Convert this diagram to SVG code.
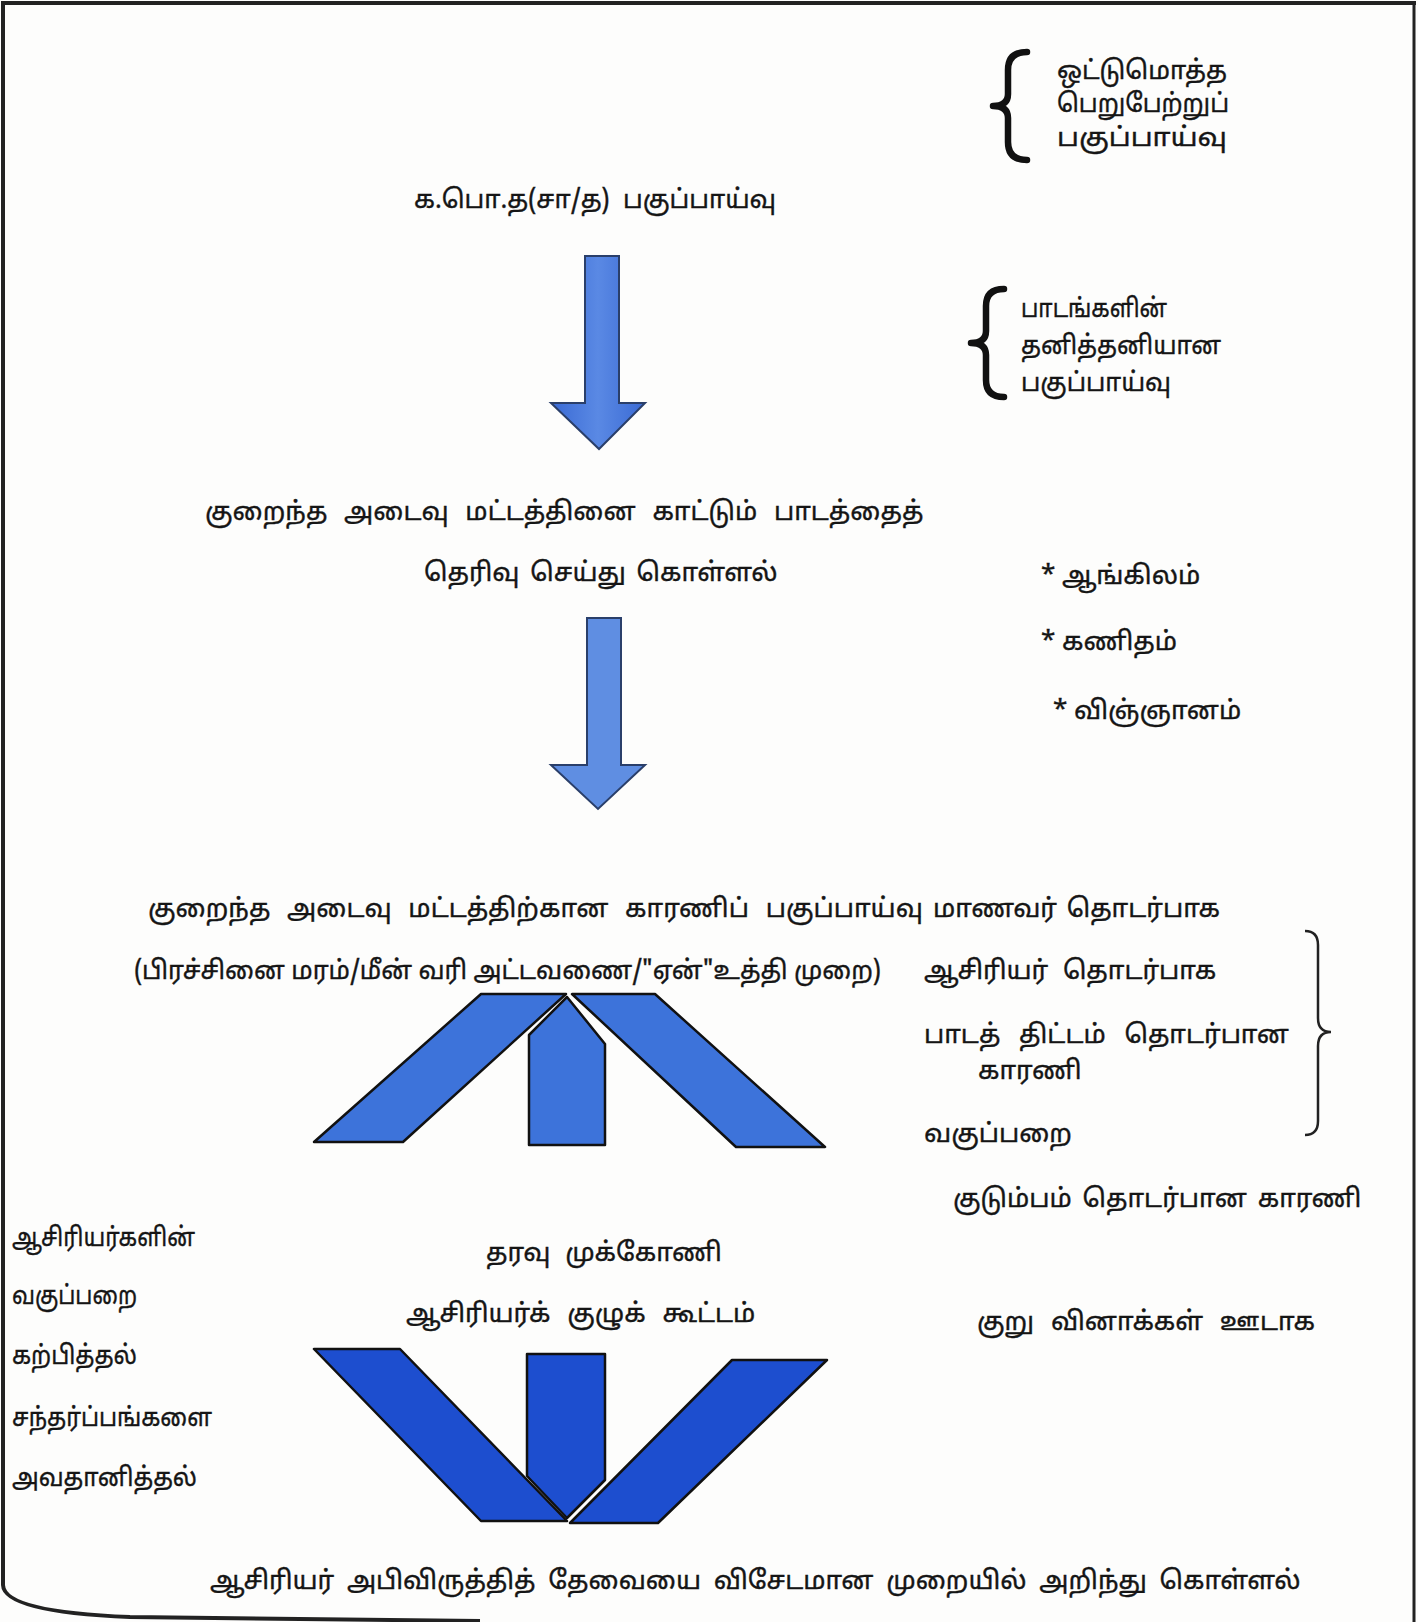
<svg xmlns="http://www.w3.org/2000/svg" width="1418" height="1622" viewBox="0 0 1418 1622">
<style>
text{font-family:"Noto Sans Tamil","Latha","Lohit Tamil","Noto Sans",sans-serif;font-size:26px;fill:#151515;stroke:#151515;stroke-width:0.4px;}
.brace{fill:none;stroke:#111;stroke-width:6.5;stroke-linecap:round;stroke-linejoin:round;}
.arrow{stroke:#2a3f6a;stroke-width:2;}
.blk{stroke:#111;stroke-width:2.5;stroke-linejoin:round;}
.roof{fill:#3d73da;}
.vee{fill:#1d4ecf;}
</style>
<defs>
<linearGradient id="ag1" x1="0" y1="0" x2="1" y2="0"><stop offset="0" stop-color="#3a6ad4"/><stop offset="0.5" stop-color="#5a89e4"/><stop offset="1" stop-color="#3a6ad4"/></linearGradient>
</defs>
<rect width="1418" height="1622" fill="#fdfdfc"/>
<g id="border" fill="none" stroke="#222">
<path d="M1,3 L1416,3" stroke-width="4"/>
<path d="M1414,3 L1414,1622" stroke-width="3"/>
<path d="M3,3 L3,1585 Q4,1612 130,1617 L480,1621" stroke-width="4"/>
</g>
<g id="connectors">
<path id="arrow1" class="arrow" fill="url(#ag1)" d="M585,256 L619,256 L619,403 L645,403 L599,449 L551,403 L585,403 Z"/>
<path id="arrow2" class="arrow" fill="#5f8ee2" d="M587,618 L621,618 L621,765 L645,765 L598,809 L551,765 L587,765 Z"/>
</g>
<g id="brace1"><path class="brace" d="M1027,52 Q1008,52 1008,70 L1008,94 Q1008,106 993,106 Q1008,106 1008,118 L1008,142 Q1008,160 1027,160"/>
<text x="1057" y="79" textLength="170" lengthAdjust="spacingAndGlyphs">ஒட்டுமொத்த</text><text x="1057" y="112" textLength="172" lengthAdjust="spacingAndGlyphs">பெறுபேற்றுப்</text><text x="1057" y="146" textLength="170" lengthAdjust="spacingAndGlyphs">பகுப்பாய்வு</text></g>
<g id="n-gce"><text x="414" y="208" textLength="362" lengthAdjust="spacingAndGlyphs">க.பொ.த(சா/த)&#160; பகுப்பாய்வு</text></g>
<g id="brace2"><path class="brace" d="M1004,289 Q986,289 986,306 L986,331 Q986,343 971,343 Q986,343 986,355 L986,380 Q986,397 1004,397"/>
<text x="1021" y="317" textLength="146" lengthAdjust="spacingAndGlyphs">பாடங்களின்</text><text x="1021" y="354" textLength="200" lengthAdjust="spacingAndGlyphs">தனித்தனியான</text><text x="1021" y="391" textLength="150" lengthAdjust="spacingAndGlyphs">பகுப்பாய்வு</text></g>
<g id="n-select"><text x="205" y="520" word-spacing="10">குறைந்த அடைவு மட்டத்தினை காட்டும் பாடத்தைத்</text>
<text x="424" y="581" word-spacing="4">தெரிவு செய்து கொள்ளல்</text></g>
<g id="n-subjects"><text x="1041" y="584">* ஆங்கிலம்</text><text x="1041" y="650">* கணிதம்</text><text x="1053" y="719">* விஞ்ஞானம்</text></g>
<g id="n-factor"><text x="148" y="917" word-spacing="10">குறைந்த அடைவு மட்டத்திற்கான காரணிப் பகுப்பாய்வு</text>
<text x="134" y="979" textLength="747" lengthAdjust="spacingAndGlyphs">(பிரச்சினை மரம்/மீன் வரி அட்டவணை/"ஏன்"உத்தி முறை)</text></g>
<g id="n-causes">
<text x="933" y="917" word-spacing="3">மாணவர் தொடர்பாக</text>
<text x="924" y="979" word-spacing="8">ஆசிரியர் தொடர்பாக</text>
<text x="924" y="1043" word-spacing="12">பாடத் திட்டம் தொடர்பான</text>
<text x="978" y="1079">காரணி</text>
<text x="924" y="1142">வகுப்பறை</text>
<path fill="none" stroke="#222" stroke-width="2.5" d="M1305,931 Q1318,931 1318,945 L1318,1018 Q1318,1032 1331,1032 Q1318,1032 1318,1046 L1318,1121 Q1318,1135 1305,1135"/>
<text x="953" y="1207" word-spacing="4">குடும்பம் தொடர்பான காரணி</text>
</g>
<g id="roof">
<path class="blk roof" d="M481,994 L566,994 L403,1142 L314,1142 Z"/>
<path class="blk roof" d="M529,1035 L567,997 L605,1044 L605,1145 L529,1145 Z"/>
<path class="blk roof" d="M572,994 L655,994 L825,1147 L736,1147 Z"/>
</g>
<g id="n-left"><text x="12" y="1246" textLength="183" lengthAdjust="spacingAndGlyphs">ஆசிரியர்களின்</text><text x="12" y="1304" textLength="125" lengthAdjust="spacingAndGlyphs">வகுப்பறை</text><text x="12" y="1364" textLength="125" lengthAdjust="spacingAndGlyphs">கற்பித்தல்</text><text x="12" y="1426" textLength="200" lengthAdjust="spacingAndGlyphs">சந்தர்ப்பங்களை</text><text x="12" y="1486" textLength="185" lengthAdjust="spacingAndGlyphs">அவதானித்தல்</text></g>
<g id="n-data"><text x="486" y="1261" word-spacing="8">தரவு முக்கோணி</text><text x="406" y="1322" word-spacing="10">ஆசிரியர்க் குழுக் கூட்டம்</text></g>
<g id="n-short"><text x="977" y="1330" word-spacing="10">குறு வினாக்கள் ஊடாக</text></g>
<g id="vee">
<path class="blk vee" d="M314,1349 L400,1349 L567,1521 L481,1521 Z"/>
<path class="blk vee" d="M527,1354 L605,1354 L605,1480 L567,1518 L527,1476 Z"/>
<path class="blk vee" d="M732,1360 L827,1360 L658,1523 L570,1523 Z"/>
</g>
<g id="n-final"><text x="210" y="1589" word-spacing="6">ஆசிரியர் அபிவிருத்தித் தேவையை விசேடமான முறையில் அறிந்து கொள்ளல்</text></g>
</svg>
